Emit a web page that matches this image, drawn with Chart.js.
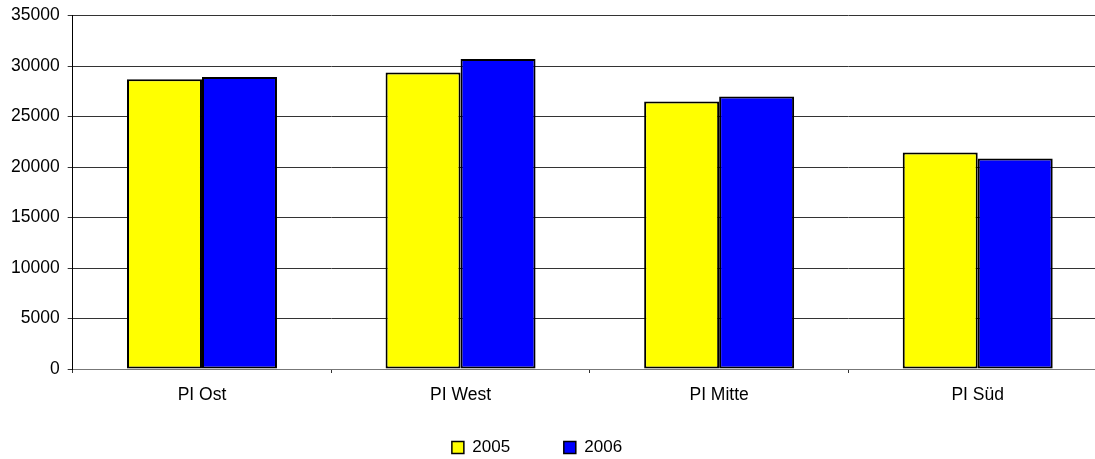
<!DOCTYPE html>
<html>
<head>
<meta charset="utf-8">
<script src="https://cdn.jsdelivr.net/npm/chart.js@4/dist/chart.umd.min.js"></script>
<style>
  html, body { margin: 0; padding: 0; background: #ffffff; overflow: hidden; }
  #frame { position: relative; width: 1095px; height: 459px; overflow: hidden; }
  #wrap { position: absolute; left: -33px; top: -3px; width: 1140px; height: 469px; }
</style>
</head>
<body>
<div id="frame">
  <div id="wrap"><canvas id="chart" width="1140" height="469"></canvas></div>
</div>
<script>
// Regions and yearly totals
const categories = ['PI Ost', 'PI West', 'PI Mitte', 'PI Süd'];
const seriesNames = ['2005', '2006'];
const values2005 = [28700, 29350, 26480, 21440];
const values2006 = [28900, 30700, 26970, 20850];
const yTicks = [0, 5000, 10000, 15000, 20000, 25000, 30000, 35000];

const FONT = "'Liberation Sans', Arial, Helvetica, sans-serif";
// gap after the first legend entry (in spaces) so the two entries sit apart
const LEGEND_GAP = '     ';

new Chart(document.getElementById('chart'), {
  type: 'bar',
  data: {
    labels: categories,
    datasets: [
      {
        label: seriesNames[0],
        data: values2005,
        backgroundColor: '#ffff00',
        borderColor: '#000000',
        borderWidth: 2,
        borderSkipped: false
      },
      {
        label: seriesNames[1],
        data: values2006,
        backgroundColor: '#0000ff',
        borderColor: '#000000',
        borderWidth: 2,
        borderSkipped: false
      }
    ]
  },
  options: {
    responsive: false,
    animation: false,
    events: [],
    datasets: {
      bar: { categoryPercentage: 0.58, barPercentage: 1.0 }
    },
    layout: { padding: { top: 12, left: 0, right: 0, bottom: 0 } },
    scales: {
      x: {
        offset: true,
        grid: {
          offset: true,
          drawOnChartArea: false,
          drawTicks: true,
          tickLength: 4,
          color: '#333333'
        },
        border: { display: true, color: '#777777', width: 1 },
        ticks: {
          color: '#000000',
          padding: 12,
          maxRotation: 0,
          autoSkip: false,
          font: { family: FONT, size: 17.5 }
        },
        afterFit: (scale) => { scale.height = 40; }
      },
      y: {
        min: yTicks[0],
        max: yTicks[yTicks.length - 1],
        afterBuildTicks: (scale) => { scale.ticks = yTicks.map(v => ({ value: v })); },
        grid: {
          color: '#333333',
          lineWidth: 1,
          drawTicks: true,
          tickLength: 5
        },
        border: { display: true, color: '#000000', width: 1 },
        ticks: {
          color: '#000000',
          padding: 8,
          font: { family: FONT, size: 17.5 },
          callback: (v) => String(v)
        },
        afterFit: (scale) => { scale.width = 105.7; }
      }
    },
    plugins: {
      tooltip: { enabled: false },
      title: { display: false },
      legend: {
        display: true,
        position: 'bottom',
        align: 'center',
        labels: {
          boxWidth: 12,
          boxHeight: 12,
          padding: 30,
          color: '#000000',
          font: { family: FONT, size: 17 },
          generateLabels: (chart) => chart.data.datasets.map((ds, i, all) => ({
            text: i < all.length - 1 ? ds.label + LEGEND_GAP : ds.label,
            fillStyle: ds.backgroundColor,
            strokeStyle: '#000000',
            lineWidth: 1.5,
            hidden: false,
            datasetIndex: i
          }))
        }
      }
    }
  }
});
</script>
</body>
</html>
